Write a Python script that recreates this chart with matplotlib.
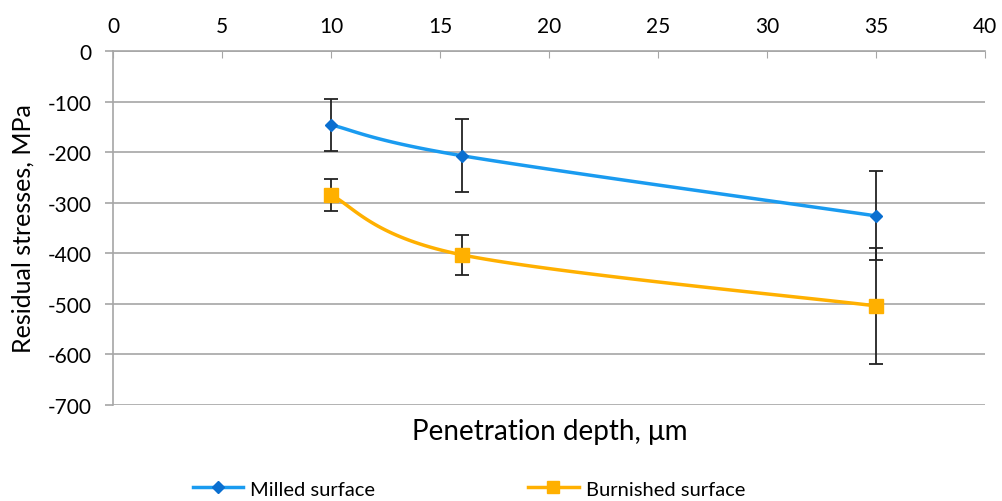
import numpy as np
import matplotlib.pyplot as plt
from matplotlib.lines import Line2D

plt.rcParams['font.family'] = ['Lato', 'DejaVu Sans']
plt.rcParams['axes.unicode_minus'] = False

depth = [10, 16, 35]
milled = [-146, -207, -326]
milled_err = [51, 72, 88]
burnished = [-285, -403, -504]
burnished_err = [32, 39, 115]

blue_line = '#1a9bf0'
blue_mark = '#0a6fd0'
orange = '#ffb000'
grey = '#a6a6a6'

# pixel per unit, used so the smoothing looks like excel's (done in screen space)
sx, sy = 21.8, 0.506


def smooth(xs, ys, n=40):
    pts = np.column_stack([np.array(xs, float) * sx, np.array(ys, float) * sy])
    pts = np.vstack([pts[0], pts, pts[-1]])
    out = []
    t = np.linspace(0, 1, n)[:, None]
    for i in range(1, len(pts) - 2):
        p0, p1, p2, p3 = pts[i - 1], pts[i], pts[i + 1], pts[i + 2]
        c1 = p1 + (p2 - p0) / 6
        c2 = p2 - (p3 - p1) / 6
        seg = (1 - t) ** 3 * p1 + 3 * (1 - t) ** 2 * t * c1 + 3 * (1 - t) * t ** 2 * c2 + t ** 3 * p2
        out.append(seg)
    out = np.vstack(out)
    return out[:, 0] / sx, out[:, 1] / sy


fig = plt.figure(figsize=(10.02, 5.02), dpi=100)
ax = fig.add_axes([0.1128, 0.1912, 0.8702, 0.7052])

ax.set_xlim(0, 40)
ax.set_ylim(-700, 0)
ax.set_xticks(range(0, 41, 5))
ax.set_yticks(range(-700, 1, 100))
ax.yaxis.grid(True, color=grey, linewidth=1.2)
ax.set_axisbelow(True)

ax.xaxis.tick_top()
ax.tick_params(axis='x', direction='in', length=5, color=grey, labelsize=15, pad=11)
ax.tick_params(axis='y', direction='out', length=5.5, color=grey, width=1.2, labelsize=15, pad=10)
for s in ['right', 'bottom']:
    ax.spines[s].set_visible(False)
for s in ['top', 'left']:
    ax.spines[s].set_color(grey)
    ax.spines[s].set_linewidth(1.2)

mx, my = smooth(depth, milled)
ax.plot(mx, my, color=blue_line, lw=2.5, zorder=3)
bx, by = smooth(depth, burnished)
ax.plot(bx, by, color=orange, lw=2.5, zorder=3)

ax.errorbar(depth, milled, yerr=milled_err, fmt='none', ecolor='#222222', elinewidth=1.3, capsize=5, capthick=1.3, zorder=4)
ax.errorbar(depth, burnished, yerr=burnished_err, fmt='none', ecolor='#222222', elinewidth=1.3, capsize=5, capthick=1.3, zorder=4)
ax.plot(depth, milled, linestyle='none', marker='D', ms=6, color=blue_mark, zorder=5)
ax.plot(depth, burnished, linestyle='none', marker='s', ms=10, color=orange, zorder=5)

ax.set_ylabel('Residual stresses, MPa', fontsize=18)
ax.yaxis.set_label_coords(-0.09, 0.5)
fig.text(0.549, 0.14, 'Penetration depth, \u03bcm', fontsize=20, ha='center', va='center')

h1 = Line2D([], [], color=blue_line, lw=2.5, marker='D', ms=6, mfc=blue_mark, mec=blue_mark)
h2 = Line2D([], [], color=orange, lw=2.5, marker='s', ms=9, mfc=orange, mec=orange)
fig.legend([h1, h2], ['Milled surface', 'Burnished surface'], loc='center', bbox_to_anchor=(0.468, 0.024),
           ncol=2, frameon=False, fontsize=14.5, handlelength=2.5, columnspacing=7.6, handletextpad=0.35,
           borderpad=0, borderaxespad=0)

fig.savefig('out.png', dpi=100)
